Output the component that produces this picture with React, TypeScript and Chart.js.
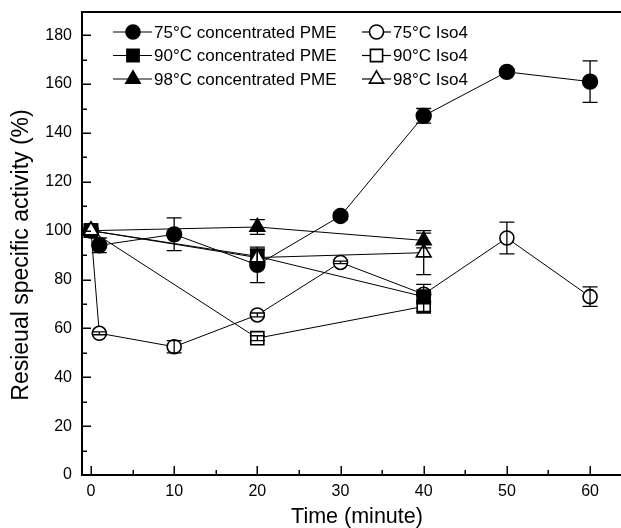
import React, { useEffect, useRef } from "react";
import { Chart, registerables } from "chart.js";

Chart.register(...registerables);

// ---- data ----
const pme75X = [0, 1, 10, 20, 30, 40, 50, 60];
const pme75Y = [100, 94, 98.5, 86, 106, 147, 165, 161];
const pme75Err = [0, 3, 6.7, 7.3, 1.5, 3, 1, 8.5];

const iso75X = [0, 1, 10, 20, 30, 40, 50, 60];
const iso75Y = [100, 58, 52.5, 65.5, 87, 74, 97, 73];
const iso75Err = [0, 0.6, 2.5, 0.8, 0.5, 4, 6.5, 4];

const pme90X = [0, 20, 40];
const pme90Y = [100, 89.5, 73];
const pme90Err = [0, 3, 2];

const iso90X = [0, 20, 40];
const iso90Y = [100, 56, 69];
const iso90Err = [0, 1, 2];

const pme98X = [0, 20, 40];
const pme98Y = [100, 101.5, 96];
const pme98Err = [0, 3, 3];

const iso98X = [0, 20, 40];
const iso98Y = [100, 89, 91];
const iso98Err = [0, 3, 9];

const xMajorTicks = [0, 10, 20, 30, 40, 50, 60];
const xMinorTicks = [5, 15, 25, 35, 45, 55];
const yMajorTicks = [0, 20, 40, 60, 80, 100, 120, 140, 160, 180];
const yMinorTicks = [10, 30, 50, 70, 90, 110, 130, 150, 170];

const xTitle = "Time (minute)";
const yTitle = "Resieual specific activity (%)";

const legendLabels = [
  "75°C concentrated PME",
  "75°C Iso4",
  "90°C concentrated PME",
  "90°C Iso4",
  "98°C concentrated PME",
  "98°C Iso4",
];

const FONT = "'Liberation Sans', Arial, Helvetica, sans-serif";

type Marker = { style: "circle" | "rect" | "triangle"; filled: boolean; r: number };

const series = [
  { key: "iso98", label: legendLabels[5], xs: iso98X, ys: iso98Y, err: iso98Err, m: { style: "triangle", filled: false, r: 8.5 } as Marker },
  { key: "pme98", label: legendLabels[4], xs: pme98X, ys: pme98Y, err: pme98Err, m: { style: "triangle", filled: true, r: 8.5 } as Marker },
  { key: "pme90", label: legendLabels[2], xs: pme90X, ys: pme90Y, err: pme90Err, m: { style: "rect", filled: true, r: 9.2 } as Marker },
  { key: "pme75", label: legendLabels[0], xs: pme75X, ys: pme75Y, err: pme75Err, m: { style: "circle", filled: true, r: 7.4 } as Marker },
  { key: "iso75", label: legendLabels[1], xs: iso75X, ys: iso75Y, err: iso75Err, m: { style: "circle", filled: false, r: 7 } as Marker },
  { key: "iso90", label: legendLabels[3], xs: iso90X, ys: iso90Y, err: iso90Err, m: { style: "rect", filled: false, r: 9.2 } as Marker },
];

function drawMarker(ctx: CanvasRenderingContext2D, m: Marker, x: number, y: number) {
  ctx.save();
  ctx.beginPath();
  if (m.style === "circle") {
    ctx.arc(x, y, m.r, 0, Math.PI * 2);
  } else if (m.style === "rect") {
    const s = Math.SQRT1_2 * m.r;
    ctx.rect(x - s, y - s, 2 * s, 2 * s);
  } else {
    const r = m.r;
    ctx.moveTo(x, y - r);
    ctx.lineTo(x + Math.sin((2 * Math.PI) / 3) * r, y + 0.5 * r);
    ctx.lineTo(x - Math.sin((2 * Math.PI) / 3) * r, y + 0.5 * r);
    ctx.closePath();
  }
  ctx.fillStyle = m.filled ? "#000" : "#fff";
  ctx.fill();
  ctx.lineWidth = 1.6;
  ctx.strokeStyle = "#000";
  ctx.stroke();
  ctx.restore();
}

const framePlugin = {
  id: "frameTicks",
  afterDraw(chart: any) {
    const { ctx, chartArea } = chart;
    const { left, right, top, bottom } = chartArea;
    const xs = chart.scales.x;
    const ys = chart.scales.y;
    ctx.save();
    ctx.strokeStyle = "#000";
    ctx.lineWidth = 2;
    ctx.beginPath();
    ctx.moveTo(left - 1, top);
    ctx.lineTo(right, top);
    ctx.stroke();
    ctx.lineWidth = 1.5;
    ctx.beginPath();
    xMajorTicks.forEach((v) => {
      const p = Math.round(xs.getPixelForValue(v)) + 0.25;
      ctx.moveTo(p, bottom);
      ctx.lineTo(p, bottom - 9);
    });
    xMinorTicks.forEach((v) => {
      const p = Math.round(xs.getPixelForValue(v)) + 0.25;
      ctx.moveTo(p, bottom);
      ctx.lineTo(p, bottom - 5);
    });
    yMajorTicks.forEach((v) => {
      const p = Math.round(ys.getPixelForValue(v)) + 0.25;
      ctx.moveTo(left, p);
      ctx.lineTo(left + 9, p);
    });
    yMinorTicks.forEach((v) => {
      const p = Math.round(ys.getPixelForValue(v)) + 0.25;
      ctx.moveTo(left, p);
      ctx.lineTo(left + 5, p);
    });
    ctx.stroke();

    // axis titles
    ctx.fillStyle = "#000";
    ctx.textAlign = "center";
    ctx.textBaseline = "middle";
    ctx.font = `21.5px ${FONT}`;
    ctx.fillText(xTitle, 357, 517);
    ctx.save();
    ctx.translate(22, 255);
    ctx.rotate(-Math.PI / 2);
    ctx.font = `23px ${FONT}`;
    ctx.fillText(yTitle, 0, 0);
    ctx.restore();

    // legend
    const order = ["pme75", "iso75", "pme90", "iso90", "pme98", "iso98"];
    const rowY = [32, 55.5, 79];
    const cols = [
      { x1: 113, mx: 133, x2: 152, tx: 154 },
      { x1: 362, mx: 376.5, x2: 391, tx: 393 },
    ];
    ctx.font = `17px ${FONT}`;
    ctx.textAlign = "left";
    ctx.textBaseline = "middle";
    order.forEach((k, i) => {
      const s = series.find((d) => d.key === k)!;
      const col = cols[i % 2];
      const y = rowY[Math.floor(i / 2)];
      ctx.lineWidth = 1.2;
      ctx.beginPath();
      ctx.moveTo(col.x1, y);
      ctx.lineTo(col.x2, y);
      ctx.stroke();
      const mk = { ...s.m, r: s.m.style === "rect" ? 8.6 : s.m.style === "triangle" ? 8.2 : 7 };
      drawMarker(ctx, mk, col.mx, y);
      ctx.fillStyle = "#000";
      ctx.fillText(s.label, col.tx, y + 1);
    });
    ctx.restore();
  },
};

const errorBarPlugin = {
  id: "errorBars",
  afterDatasetsDraw(chart: any) {
    const { ctx } = chart;
    const ys = chart.scales.y;
    ctx.save();
    ctx.strokeStyle = "#000";
    ctx.lineWidth = 1.3;
    chart.data.datasets.forEach((ds: any, di: number) => {
      const meta = chart.getDatasetMeta(di);
      const errs: number[] = ds.errors || [];
      meta.data.forEach((pt: any, i: number) => {
        const e = errs[i];
        if (!e) return;
        const v = ds.data[i].y;
        const yTop = ys.getPixelForValue(v + e);
        const yBot = ys.getPixelForValue(v - e);
        const x = pt.x;
        const half = 7.5;
        ctx.beginPath();
        ctx.moveTo(x, yTop);
        ctx.lineTo(x, yBot);
        ctx.moveTo(x - half, yTop);
        ctx.lineTo(x + half, yTop);
        ctx.moveTo(x - half, yBot);
        ctx.lineTo(x + half, yBot);
        ctx.stroke();
      });
    });
    ctx.restore();
  },
};

export default function App() {
  const canvasRef = useRef<HTMLCanvasElement | null>(null);

  useEffect(() => {
    if (!canvasRef.current) return;
    Chart.defaults.font.family = FONT;
    Chart.defaults.color = "#000";

    const datasets = series.map((s) => ({
      label: s.label,
      data: s.xs.map((x, i) => ({ x, y: s.ys[i] })),
      errors: s.err,
      borderColor: "#000",
      borderWidth: 1,
      backgroundColor: s.m.filled ? "#000" : "#fff",
      pointBackgroundColor: s.m.filled ? "#000" : "#fff",
      pointBorderColor: "#000",
      pointBorderWidth: 1.6,
      pointStyle: s.m.style,
      pointRadius: s.m.r,
      pointHoverRadius: s.m.r,
      tension: 0,
      fill: false,
      clip: false,
    }));

    const chart = new Chart(canvasRef.current, {
      type: "line",
      data: { datasets: datasets as any },
      options: {
        animation: false,
        responsive: true,
        maintainAspectRatio: false,
        events: [],
        layout: { autoPadding: false, padding: { top: 12, right: 0, left: 0, bottom: 0 } },
        plugins: {
          legend: { display: false },
          tooltip: { enabled: false },
        },
        scales: {
          x: {
            type: "linear",
            min: -1.08,
            max: 63.72,
            grid: { display: false, drawTicks: false },
            border: { display: true, color: "#000", width: 2 },
            ticks: {
              padding: 7,
              font: { size: 16 },
              color: "#000",
              maxRotation: 0,
              callback: (v: any) => String(v),
            },
            afterBuildTicks: (s: any) => {
              s.ticks = xMajorTicks.map((v) => ({ value: v }));
            },
            afterFit: (s: any) => {
              s.height = 53;
              s.paddingLeft = 0;
              s.paddingRight = 0;
            },
            title: { display: false },
          },
          y: {
            type: "linear",
            min: 0,
            max: 189.5,
            grid: { display: false, drawTicks: false },
            border: { display: true, color: "#000", width: 2 },
            ticks: {
              padding: 10,
              font: { size: 16 },
              color: "#000",
              callback: (v: any) => String(v),
            },
            afterBuildTicks: (s: any) => {
              s.ticks = yMajorTicks.map((v) => ({ value: v }));
            },
            afterFit: (s: any) => {
              s.width = 82;
              s.paddingTop = 0;
              s.paddingBottom = 0;
            },
            title: { display: false },
          },
        },
      },
      plugins: [errorBarPlugin, framePlugin],
    });

    return () => chart.destroy();
  }, []);

  return (
    <div style={{ position: "fixed", left: 0, top: 0, width: 621, height: 528, background: "#fff" }}>
      <canvas ref={canvasRef} />
    </div>
  );
}
